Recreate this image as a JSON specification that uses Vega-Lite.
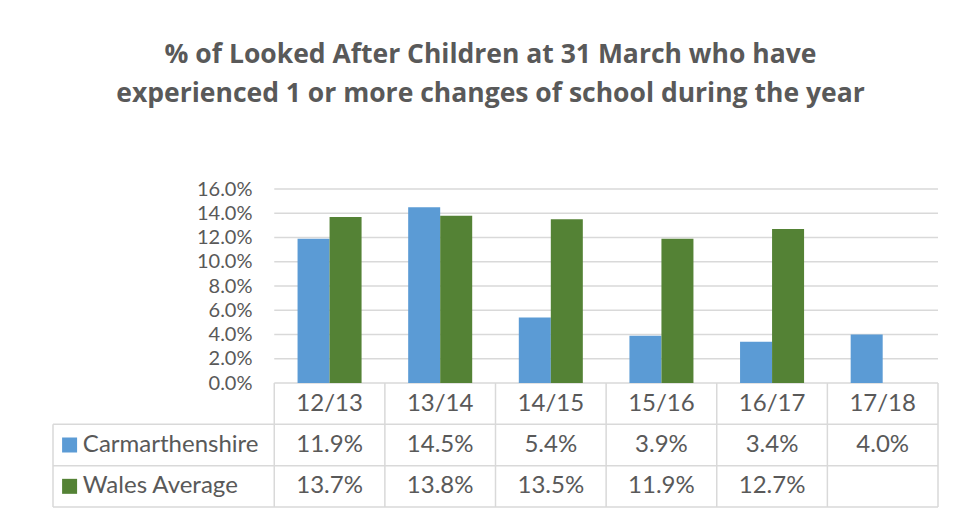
{
  "$schema": "https://vega.github.io/schema/vega-lite/v6.json",
  "width": 885,
  "height": 318,
  "autosize": {"type": "none"},
  "padding": {"left": 53, "top": 189, "right": 17, "bottom": 6},
  "background": "white",
  "config": {"view": {"stroke": null}, "font": "Lato", "axisY": {"labelOverlap": false}, "axis": {"labelOverlap": false}},
  "title": {
    "text": ["% of Looked After Children at 31 March who have", "experienced 1 or more changes of school during the year"],
    "font": "Open Sans", "fontSize": 26.5, "fontWeight": "bold", "color": "#595959",
    "anchor": "middle", "lineHeight": 39, "offset": 72, "dx": -5
  },
  "datasets": {
    "vals": [
      {"year": "12/13", "series": "Carmarthenshire", "value": 0.119},
      {"year": "13/14", "series": "Carmarthenshire", "value": 0.145},
      {"year": "14/15", "series": "Carmarthenshire", "value": 0.054},
      {"year": "15/16", "series": "Carmarthenshire", "value": 0.039},
      {"year": "16/17", "series": "Carmarthenshire", "value": 0.034},
      {"year": "17/18", "series": "Carmarthenshire", "value": 0.040},
      {"year": "12/13", "series": "Wales Average", "value": 0.137},
      {"year": "13/14", "series": "Wales Average", "value": 0.138},
      {"year": "14/15", "series": "Wales Average", "value": 0.135},
      {"year": "15/16", "series": "Wales Average", "value": 0.119},
      {"year": "16/17", "series": "Wales Average", "value": 0.127}
    ],
    "grid": [{"g": 0}, {"g": 0.02}, {"g": 0.04}, {"g": 0.06}, {"g": 0.08}, {"g": 0.10}, {"g": 0.12}, {"g": 0.14}, {"g": 0.16}],
    "one": [{"k": 1}]
  },
  "resolve": {"scale": {"y": "independent"}},
  "layer": [
    {
      "layer": [
        {
          "data": {"name": "grid"},
          "mark": {"type": "rule", "color": "#d9d9d9", "strokeWidth": 1.5},
          "encoding": {
            "x": {"datum": "12/13", "type": "nominal", "bandPosition": 0, "scale": {"domain": ["L1", "L2", "12/13", "13/14", "14/15", "15/16", "16/17", "17/18"], "paddingInner": 0, "paddingOuter": 0}, "axis": null},
            "x2": {"datum": "17/18", "bandPosition": 1},
            "y": {
              "field": "g", "type": "quantitative",
              "scale": {"domain": [0, 0.16], "range": [194, 0], "nice": false},
              "axis": {"orient": "left", "offset": -221, "grid": false, "domain": false, "ticks": false, "format": ".1%", "values": [0, 0.02, 0.04, 0.06, 0.08, 0.1, 0.12, 0.14, 0.16], "labelOverlap": false, "labelFont": "Lato", "labelFontSize": 20, "labelColor": "#595959", "labelPadding": 22, "title": null}
            }
          }
        },
        {
          "data": {"name": "vals"},
          "mark": {"type": "bar"},
          "encoding": {
            "x": {"field": "year", "type": "nominal", "scale": {"domain": ["L1", "L2", "12/13", "13/14", "14/15", "15/16", "16/17", "17/18"], "paddingInner": 0, "paddingOuter": 0}, "axis": null},
            "xOffset": {"field": "series", "type": "nominal", "scale": {"domain": ["Carmarthenshire", "Wales Average"], "paddingInner": 0, "paddingOuter": 0.728}},
            "y": {"field": "value", "type": "quantitative", "scale": {"domain": [0, 0.16], "range": [194, 0], "nice": false},
              "axis": {"orient": "left", "offset": -221, "grid": false, "domain": false, "ticks": false, "format": ".1%", "values": [0, 0.02, 0.04, 0.06, 0.08, 0.1, 0.12, 0.14, 0.16], "labelOverlap": false, "labelFont": "Lato", "labelFontSize": 20, "labelColor": "#595959", "labelPadding": 22, "title": null}},
            "color": {"field": "series", "type": "nominal", "scale": {"domain": ["Carmarthenshire", "Wales Average"], "range": ["#5B9BD5", "#548235"]}, "legend": null}
          }
        }
      ]
    },
    {
      "layer": [
        {
          "data": {"name": "vals"},
          "transform": [{"filter": "datum.year == '12/13'"}],
          "mark": {"type": "rule", "color": "#d9d9d9", "strokeWidth": 1.5},
          "encoding": {
            "x": {"datum": "L1", "type": "nominal", "bandPosition": 0, "scale": {"domain": ["L1", "L2", "12/13", "13/14", "14/15", "15/16", "16/17", "17/18"], "paddingInner": 0, "paddingOuter": 0}, "axis": null},
            "x2": {"datum": "17/18", "bandPosition": 1},
            "y": {"field": "series", "type": "nominal", "bandPosition": 0, "scale": {"domain": ["hdr", "Carmarthenshire", "Wales Average"], "range": [194, 318], "paddingInner": 0, "paddingOuter": 0}, "axis": null}
          }
        },
        {
          "data": {"name": "one"},
          "mark": {"type": "rule", "color": "#d9d9d9", "strokeWidth": 1.5},
          "encoding": {
            "x": {"datum": "L1", "type": "nominal", "bandPosition": 0},
            "x2": {"datum": "17/18", "bandPosition": 1},
            "y": {"datum": "Wales Average", "type": "nominal", "bandPosition": 1}
          }
        },
        {
          "data": {"name": "vals"},
          "transform": [{"filter": "datum.series == 'Carmarthenshire'"}],
          "mark": {"type": "rule", "color": "#d9d9d9", "strokeWidth": 1.5},
          "encoding": {
            "x": {"field": "year", "type": "nominal", "bandPosition": 0},
            "y": {"datum": "hdr", "type": "nominal", "bandPosition": 0},
            "y2": {"datum": "Wales Average", "bandPosition": 1}
          }
        },
        {
          "data": {"name": "one"},
          "mark": {"type": "rule", "color": "#d9d9d9", "strokeWidth": 1.5},
          "encoding": {
            "x": {"datum": "17/18", "type": "nominal", "bandPosition": 1},
            "y": {"datum": "hdr", "type": "nominal", "bandPosition": 0},
            "y2": {"datum": "Wales Average", "bandPosition": 1}
          }
        },
        {
          "data": {"name": "one"},
          "mark": {"type": "rule", "color": "#d9d9d9", "strokeWidth": 1.5},
          "encoding": {
            "x": {"datum": "L1", "type": "nominal", "bandPosition": 0},
            "y": {"datum": "Carmarthenshire", "type": "nominal", "bandPosition": 0},
            "y2": {"datum": "Wales Average", "bandPosition": 1}
          }
        },
        {
          "data": {"name": "vals"},
          "transform": [{"filter": "datum.series == 'Carmarthenshire'"}],
          "mark": {"type": "text", "font": "Lato", "fontSize": 24, "color": "#595959", "align": "center", "baseline": "middle"},
          "encoding": {
            "x": {"field": "year", "type": "nominal", "bandPosition": 0.5},
            "y": {"datum": "hdr", "type": "nominal", "bandPosition": 0.5},
            "text": {"field": "year"}
          }
        },
        {
          "data": {"name": "vals"},
          "mark": {"type": "text", "font": "Lato", "fontSize": 24, "color": "#595959", "align": "center", "baseline": "middle"},
          "encoding": {
            "x": {"field": "year", "type": "nominal", "bandPosition": 0.5},
            "y": {"field": "series", "type": "nominal", "bandPosition": 0.5},
            "text": {"field": "value", "format": ".1%"}
          }
        },
        {
          "data": {"name": "vals"},
          "transform": [{"filter": "datum.year == '12/13'"}],
          "mark": {"type": "text", "font": "Lato", "fontSize": 24, "color": "#595959", "align": "left", "baseline": "middle"},
          "encoding": {
            "x": {"datum": "L1", "type": "nominal", "bandPosition": 0.27},
            "y": {"field": "series", "type": "nominal", "bandPosition": 0.5},
            "text": {"field": "series"}
          }
        },
        {
          "data": {"name": "vals"},
          "transform": [{"filter": "datum.year == '12/13'"}],
          "mark": {"type": "point", "shape": "square", "filled": true, "size": 225, "opacity": 1},
          "encoding": {
            "x": {"datum": "L1", "type": "nominal", "bandPosition": 0.15},
            "y": {"field": "series", "type": "nominal", "bandPosition": 0.5},
            "color": {"field": "series", "type": "nominal", "scale": {"domain": ["Carmarthenshire", "Wales Average"], "range": ["#5B9BD5", "#548235"]}, "legend": null}
          }
        }
      ]
    }
  ]
}
